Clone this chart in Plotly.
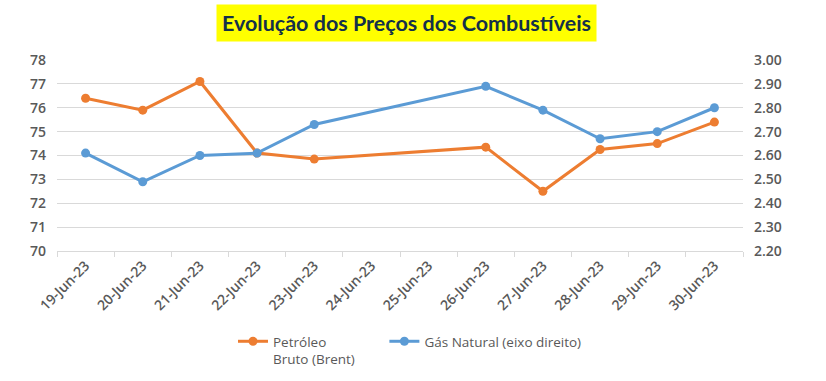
import plotly.graph_objects as go

dates = ["19-Jun-23", "20-Jun-23", "21-Jun-23", "22-Jun-23", "23-Jun-23", "24-Jun-23",
         "25-Jun-23", "26-Jun-23", "27-Jun-23", "28-Jun-23", "29-Jun-23", "30-Jun-23"]
brent = [76.4, 75.9, 77.1, 74.1, 73.85, None, None, 74.35, 72.5, 74.25, 74.5, 75.4]
gas = [2.61, 2.49, 2.60, 2.61, 2.73, None, None, 2.89, 2.79, 2.67, 2.70, 2.80]

left_ticks = [70, 71, 72, 73, 74, 75, 76, 77, 78]
right_ticks = [2.2, 2.3, 2.4, 2.5, 2.6, 2.7, 2.8, 2.9, 3.0]

grey = "#595959"
fig = go.Figure()
fig.add_trace(go.Scatter(
    x=dates, y=brent, name="Petróleo<br>Bruto (Brent)" + "&nbsp;" * 7, mode="lines+markers",
    connectgaps=True, line=dict(color="#ED7D31", width=3),
    marker=dict(color="#ED7D31", size=9), yaxis="y"))
fig.add_trace(go.Scatter(
    x=dates, y=gas, name="Gás Natural (eixo direito)", mode="lines+markers",
    connectgaps=True, line=dict(color="#5B9BD5", width=3),
    marker=dict(color="#5B9BD5", size=9), yaxis="y2"))

tickfont = dict(size=14, color=grey, family="Open Sans", weight=600)
fig.update_layout(
    width=826, height=381,
    margin=dict(l=57, r=83, t=60, b=130, autoexpand=False),
    paper_bgcolor="white", plot_bgcolor="white",
    font=dict(family="Open Sans", color=grey, size=12),
    showlegend=True,
    legend=dict(orientation="h", x=233 / 826, xanchor="left", xref="container",
                y=1 - 326 / 381, yanchor="top", yref="container",
                font=dict(size=13.5, color=grey), valign="top"),
    xaxis=dict(type="category", categoryorder="array", categoryarray=dates,
               tickvals=dates, ticktext=dates,
               tickangle=-45, tickfont=tickfont,
               showgrid=False, showline=True, linecolor="#d9d9d9", linewidth=1,
               ticks="outside", tickson="boundaries", ticklen=5, tickcolor="#d9d9d9",
               range=[-0.5, 11.5], automargin=False),
    yaxis=dict(range=[70, 78], tickvals=left_ticks, showgrid=True, gridcolor="#d9d9d9",
               gridwidth=1, zeroline=False, showline=False, automargin=False,
               tickfont=tickfont, ticks="", ticklabelstandoff=10),
    yaxis2=dict(range=[2.2, 3.0], tickvals=right_ticks, overlaying="y", side="right",
                showgrid=False, zeroline=False, showline=False, tickformat=".2f",
                automargin=False, tickfont=tickfont, ticklabelstandoff=10),
    annotations=[dict(
        text="<b>Evolução dos Preços dos Combustíveis</b>", xref="paper", yref="paper",
        x=(406.5 - 57) / 686, y=1 + 37 / 191, xanchor="center", yanchor="middle",
        showarrow=False,
        font=dict(size=21.5, color="#14304A", family="Lato"),
        bgcolor="#FFFF00", borderpad=5)],
)

fig.write_html("out.html", config={"displayModeBar": False},
               post_script="document.body.style.margin='0';")
